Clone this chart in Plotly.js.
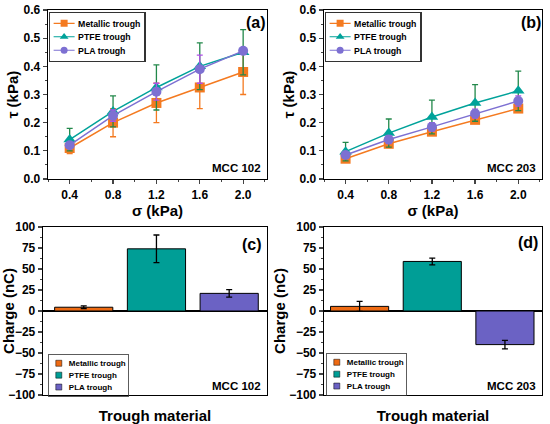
<!DOCTYPE html>
<html>
<head>
<meta charset="utf-8">
<script src="https://cdn.plot.ly/plotly-3.0.1.min.js"></script>
<style>html,body{margin:0;padding:0;background:#fff;}#chart{width:550px;height:424px;}</style>
</head>
<body>
<div id="chart"></div>
<script>
// ---- data ----
const sigma = [0.4, 0.8, 1.2, 1.6, 2.0];
const seriesNames = ["Metallic trough", "PTFE trough", "PLA trough"];

// Panel (a) MCC 102 shear stress (kPa)
const a_metal = [0.11, 0.20, 0.27, 0.325, 0.38];
const a_metal_err = [0.02, 0.05, 0.07, 0.075, 0.08];
const a_ptfe = [0.14, 0.24, 0.325, 0.40, 0.45];
const a_ptfe_err = [0.04, 0.055, 0.08, 0.083, 0.08];
const a_pla = [0.12, 0.225, 0.31, 0.39, 0.455];
const a_pla_err = [0.01, 0.02, 0.03, 0.05, 0.01];

// Panel (b) MCC 203 shear stress (kPa)
const b_metal = [0.072, 0.125, 0.168, 0.21, 0.25];
const b_metal_err = [0.008, 0.008, 0.01, 0.01, 0.01];
const b_ptfe = [0.097, 0.163, 0.22, 0.27, 0.313];
const b_ptfe_err = [0.033, 0.05, 0.06, 0.065, 0.07];
const b_pla = [0.085, 0.14, 0.185, 0.232, 0.277];
const b_pla_err = [0.012, 0.014, 0.015, 0.016, 0.018];

// Panel (c) MCC 102 charge (nC)
const c_charge = [4.5, 74, 21];
const c_err = [1.5, 16.5, 4.5];
// Panel (d) MCC 203 charge (nC)
const d_charge = [5.5, 59, -40];
const d_err = [6, 4, 5];

const lineColors = ["#F47A20", "#00A29A", "#7D70D2"];
const errColors = ["#F47A20", "#22884A", "#B050E8"];
const barColors = ["#EE6A12", "#009E96", "#6B62C4"];
const symbols = ["square", "triangle-up", "circle"];

const FONT = "Liberation Sans, Arial, sans-serif";

function lineTraces(vals, errs, xa, ya, leg) {
  return vals.map((v, i) => ({
    type: "scatter", mode: "lines+markers", name: seriesNames[i],
    x: sigma, y: v, xaxis: xa, yaxis: ya, legend: leg,
    line: {color: lineColors[i], width: 1.5},
    marker: {symbol: symbols[i], size: i === 1 ? 11 : 10, color: lineColors[i]},
    error_y: {type: "data", array: errs[i], visible: true, color: errColors[i], thickness: 1.3, width: 3}
  }));
}
function barTraces(vals, errs, xa, ya, leg) {
  return vals.map((v, i) => ({
    type: "bar", name: seriesNames[i], x: [i], y: [v], xaxis: xa, yaxis: ya, legend: leg,
    width: 0.8,
    marker: {color: barColors[i], line: {color: "#000", width: 1}},
    error_y: {type: "data", array: [errs[i]], visible: true, color: "#000", thickness: 1.3, width: 3}
  }));
}

const data = [].concat(
  lineTraces([a_metal, a_ptfe, a_pla], [a_metal_err, a_ptfe_err, a_pla_err], "x", "y", "legend"),
  lineTraces([b_metal, b_ptfe, b_pla], [b_metal_err, b_ptfe_err, b_pla_err], "x2", "y2", "legend2"),
  barTraces(c_charge, c_err, "x3", "y3", "legend3"),
  barTraces(d_charge, d_err, "x4", "y4", "legend4")
);

const W = 550, H = 424;
const px = (a, b) => [a / W, b / W];
const py = (top, bot) => [1 - bot / H, 1 - top / H];

const tickFont = {family: FONT, size: 12, color: "#000", weight: "bold"};
const titleFont = {family: FONT, size: 15, color: "#000", weight: "bold"};

function sigAxisX(dom, anchor) {
  return {domain: dom, anchor: anchor, range: [0.2, 2.22], tick0: 0.4, dtick: 0.4, tickformat: ".1f", automargin: false,
    showline: true, mirror: true, linecolor: "#000", linewidth: 1.3, ticks: "outside", ticklen: 4, tickwidth: 1.2,
    minor: {dtick: 0.2, ticks: "outside", ticklen: 2, tickwidth: 1}, showgrid: false, zeroline: false,
    tickfont: tickFont, title: {text: "σ (kPa)", font: titleFont, standoff: 0}};
}
function tauAxisY(dom, anchor) {
  return {domain: dom, anchor: anchor, range: [0, 0.6], dtick: 0.1, tickformat: ".1f", automargin: false,
    showline: true, mirror: true, linecolor: "#000", linewidth: 1.3, ticks: "outside", ticklen: 4, tickwidth: 1.2,
    minor: {dtick: 0.05, ticks: "outside", ticklen: 2, tickwidth: 1}, showgrid: false, zeroline: false,
    tickfont: tickFont, title: {text: "τ (kPa)", font: titleFont, standoff: 1}};
}
function barAxisX(dom, anchor, rng) {
  return {domain: dom, anchor: anchor, range: rng, showticklabels: false, ticks: "", automargin: false,
    showline: true, mirror: true, linecolor: "#000", linewidth: 1.3, showgrid: false, zeroline: false,
    title: {text: "Trough material", font: titleFont, standoff: 16}};
}
function chargeAxisY(dom, anchor) {
  return {domain: dom, anchor: anchor, range: [-100, 100], dtick: 25, automargin: false,
    showline: true, mirror: true, linecolor: "#000", linewidth: 1.3, ticks: "outside", ticklen: 4, tickwidth: 1.2,
    minor: {dtick: 12.5, ticks: "outside", ticklen: 2, tickwidth: 1}, showgrid: false,
    zeroline: true, zerolinecolor: "#000", zerolinewidth: 1.3,
    tickfont: tickFont, title: {text: "Charge (nC)", font: titleFont, standoff: 0}};
}
function legendAt(x, y, size) {
  return {x: x / W, y: 1 - y / H, xanchor: "left", yanchor: "top", bgcolor: "rgba(255,255,255,0)",
    bordercolor: "#333", borderwidth: 1.6, font: {family: FONT, size: size, color: "#000", weight: "bold"},
    tracegroupgap: 0, itemwidth: 30};
}
function ann(text, x, y, size, anchor) {
  return {text: text, xref: "paper", yref: "paper", x: x / W, y: 1 - y / H, xanchor: anchor, yanchor: "middle",
    showarrow: false, font: {family: FONT, size: size, color: "#000", weight: "bold"}};
}

const layout = {
  width: W, height: H, margin: {l: 0, r: 0, t: 0, b: 0, autoexpand: false},
  paper_bgcolor: "#fff", plot_bgcolor: "#fff", barmode: "overlay", showlegend: true,
  font: {family: FONT, color: "#000"},
  xaxis: sigAxisX(px(48, 267), "y"),
  yaxis: tauAxisY(py(10, 179), "x"),
  xaxis2: sigAxisX(px(324, 542), "y2"),
  yaxis2: tauAxisY(py(10, 179), "x2"),
  xaxis3: barAxisX(px(43, 267), "y3", [-0.56, 2.52]),
  yaxis3: chargeAxisY(py(227, 395), "x3"),
  xaxis4: barAxisX(px(324, 542), "y4", [-0.49, 2.51]),
  yaxis4: chargeAxisY(py(227, 395), "x4"),
  legend: legendAt(49, 12, 12.5),
  legend2: legendAt(325, 12, 12.5),
  legend3: legendAt(48, 354, 16),
  legend4: legendAt(326, 353, 16),
  annotations: [
    ann("(a)", 256, 23, 16, "center"),
    ann("MCC 102", 263, 168, 11.5, "right"),
    ann("(b)", 531, 22, 16, "center"),
    ann("MCC 203", 538, 168, 11.5, "right"),
    ann("(c)", 252, 244, 16, "center"),
    ann("MCC 102", 263, 386, 11.5, "right"),
    ann("(d)", 528, 243, 16, "center"),
    ann("MCC 203", 538, 386, 11.5, "right")
  ]
};

Plotly.newPlot("chart", data, layout, {staticPlot: true, displayModeBar: false}).then(function (gd) {
  // compact the legends to the reference's tighter spacing
  const groups = gd.querySelectorAll(".infolayer > g");
  groups.forEach(function (g) {
    const cls = g.getAttribute("class") || "";
    if (/^legend\d*$/.test(cls)) {
      const t = g.getAttribute("transform") || "";
      const isBar = cls === "legend3" || cls === "legend4";
      g.setAttribute("transform", t + " scale(" + (isBar ? 0.5 : 0.7) + ")");
    }
  });
});
</script>
</body>
</html>
